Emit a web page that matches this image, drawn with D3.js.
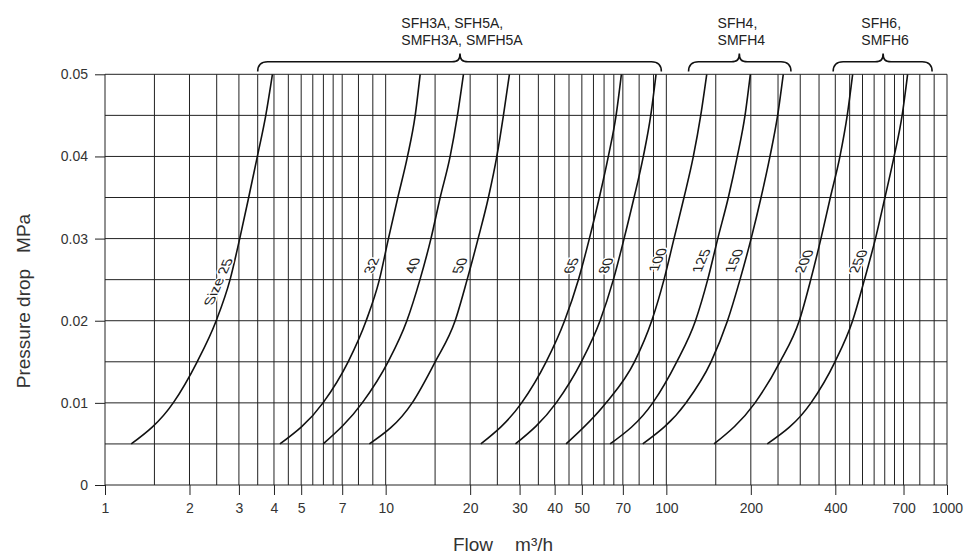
<!doctype html>
<html lang="en">

<head>
  <title>Pressure drop vs flow</title>
  <meta charset="utf-8" />
  <script src="https://d3js.org/d3.v7.min.js"></script>
  <style>
    body { margin: 0; background: #fff; }
    svg { display: block; font-family: "Liberation Sans", Arial, sans-serif; }
  </style>
</head>

<body>
  <svg id="chart" width="964" height="554"></svg>

  <script>
    // tick labels and grid
    const flowTicks = [1, 2, 3, 4, 5, 7, 10, 20, 30, 40, 50, 70, 100, 200, 400, 700, 1000];
    const gridSteps = [1, 1.5, 2, 2.5, 3, 3.5, 4, 4.5, 5, 5.5, 6, 6.5, 7, 8, 9];
    const decades = [1, 10, 100];
    const pressureTicks = [0, 0.01, 0.02, 0.03, 0.04, 0.05];
    const pressureGrid = [0, 0.005, 0.01, 0.015, 0.02, 0.025, 0.03, 0.035, 0.04, 0.045, 0.05];

    // curves: flow (m3/h) read at each pressure level (MPa)
    const pressureLevels = [0.005, 0.01, 0.015, 0.02, 0.025, 0.03, 0.035, 0.04, 0.045, 0.05];
    const sizes = ["Size 25", "32", "40", "50", "65", "80", "100", "125", "150", "200", "250"];
    const flow25 = [1.24, 1.75, 2.13, 2.49, 2.79, 3.02, 3.25, 3.49, 3.74, 3.95];
    const flow32 = [4.20, 5.98, 7.35, 8.52, 9.50, 10.23, 11.05, 11.96, 12.74, 13.27];
    const flow40 = [5.99, 8.25, 10.2, 11.9, 13.25, 14.5, 15.64, 16.97, 18.02, 18.93];
    const flow50 = [8.75, 12.43, 15.01, 17.68, 19.51, 21.35, 23.23, 24.89, 26.28, 27.60];
    const flow65 = [21.83, 30.5, 37.3, 43.4, 48.61, 53.19, 57.72, 62.14, 66.22, 69.16];
    const flow80 = [29.0, 40.5, 49.8, 58.06, 64.76, 70.70, 76.74, 82.80, 87.99, 91.9];
    const flow100 = [43.94, 61.0, 77.0, 88.72, 98.1, 106.5, 115.6, 124.8, 132.6, 139.3];
    const flow125 = [63.03, 89.45, 108.9, 127.0, 140.4, 152.5, 166.3, 179.0, 190.7, 199.2];
    const flow150 = [82.41, 117.5, 144.3, 165.2, 183.0, 200.5, 217.5, 234.0, 249.2, 261.0];
    const flow200 = [147.9, 207.0, 254.1, 297.6, 327.0, 355.5, 384.0, 415.5, 441.1, 461.2];
    const flow250 = [228.9, 327.6, 398.9, 461.0, 508.0, 556.0, 601.0, 648.0, 692.0, 723.9];
    const flows = [flow25, flow32, flow40, flow50, flow65, flow80, flow100, flow125, flow150, flow200, flow250];
    // pressure at which each size label sits
    const labelPressure = [0.0247, 0.0267, 0.0267, 0.0267, 0.0267, 0.0267, 0.0274, 0.0273, 0.0273, 0.0272, 0.0272];

    // model groups shown with braces above the chart
    const groupLines = [["SFH3A, SFH5A,", "SMFH3A, SMFH5A"], ["SFH4,", "SMFH4"], ["SFH6,", "SMFH6"]];
    const groupFrom = [3.5, 120, 393];
    const groupTo = [96, 278, 885];
    const groupMid = [18.4, 182, 592];

    const svg = d3.select("#chart");

    const x = d3.scaleLog().domain([1, 1000]).range([105, 947]);
    const y = d3.scaleLinear().domain([0, 0.05]).range([485, 74.3]);

    /* grid */
    const vLines = decades.flatMap(d => gridSteps.map(m => m * d)).concat([1000]);
    const grid = svg.append("g").attr("stroke", "#222").attr("stroke-width", 1);

    grid.selectAll("line.v")
      .data(vLines)
      .join("line")
      .attr("class", "v")
      .attr("x1", d => x(d)).attr("x2", d => x(d))
      .attr("y1", y(0)).attr("y2", y(0.05));

    grid.selectAll("line.h")
      .data(pressureGrid)
      .join("line")
      .attr("class", "h")
      .attr("x1", x(1)).attr("x2", x(1000))
      .attr("y1", d => y(d)).attr("y2", d => y(d));

    /* axes */
    const xAxis = svg.append("g")
      .attr("transform", `translate(0,${y(0)})`)
      .call(d3.axisBottom(x)
        .tickValues(flowTicks)
        .tickFormat(d3.format("d"))
        .tickSizeInner(10)
        .tickSizeOuter(0)
        .tickPadding(8));

    const yAxis = svg.append("g")
      .attr("transform", `translate(${x(1)},0)`)
      .call(d3.axisLeft(y)
        .tickValues(pressureTicks)
        .tickFormat(d => d === 0 ? "0" : d3.format(".2f")(d))
        .tickSizeInner(10)
        .tickSizeOuter(0)
        .tickPadding(7));

    [xAxis, yAxis].forEach(a => {
      a.select(".domain").remove();
      a.attr("font-family", null).attr("font-size", 14);
      a.selectAll("line").attr("stroke", "#222");
      a.selectAll("text").attr("fill", "#333");
    });

    /* curves */
    const line = d3.line()
      .x(d => x(d[0]))
      .y(d => y(d[1]))
      .curve(d3.curveMonotoneX);

    const series = flows.map(f => f.map((v, i) => [v, pressureLevels[i]]));

    svg.append("g")
      .selectAll("path")
      .data(series)
      .join("path")
      .attr("d", line)
      .attr("fill", "none")
      .attr("stroke", "#111")
      .attr("stroke-width", 1.6);

    /* size labels, slanted along the curves */
    function flowAt(f, p) {
      const i = Math.max(1, d3.bisectLeft(pressureLevels, p));
      const t = (p - pressureLevels[i - 1]) / (pressureLevels[i] - pressureLevels[i - 1]);
      return Math.pow(10, Math.log10(f[i - 1]) + t * (Math.log10(f[i]) - Math.log10(f[i - 1])));
    }

    svg.append("g")
      .selectAll("text")
      .data(sizes)
      .join("text")
      .attr("transform", (d, i) => {
        const px = x(flowAt(flows[i], labelPressure[i])) - 11;
        const py = y(labelPressure[i]);
        return `translate(${px},${py}) rotate(-90) skewY(24)`;
      })
      .attr("text-anchor", "middle")
      .attr("dominant-baseline", "central")
      .attr("font-size", 14)
      .attr("fill", "#222")
      .attr("stroke", "#fff")
      .attr("stroke-width", 3)
      .attr("paint-order", "stroke")
      .text(d => d);

    /* braces with model names */
    function brace(a, b, m) {
      const yEnd = 71.5, yFlat = 61.7, yPeak = 53.5, r = 10;
      return `M${a},${yEnd} Q${a},${yFlat} ${a + r},${yFlat} L${m - 8},${yFlat}` +
        ` C${m - 2},${yFlat} ${m},${yFlat - 2} ${m},${yPeak}` +
        ` C${m},${yFlat - 2} ${m + 2},${yFlat} ${m + 8},${yFlat}` +
        ` L${b - r},${yFlat} Q${b},${yFlat} ${b},${yEnd}`;
    }

    const groups = svg.append("g")
      .selectAll("g")
      .data(groupLines)
      .join("g");

    groups.append("path")
      .attr("d", (d, i) => brace(x(groupFrom[i]), x(groupTo[i]), x(groupMid[i])))
      .attr("fill", "none")
      .attr("stroke", "#111")
      .attr("stroke-width", 1.6);

    groups.each(function (d, i) {
      const g = d3.select(this);
      const texts = g.selectAll("text.name")
        .data(d)
        .join("text")
        .attr("class", "name")
        .attr("y", (t, j) => 28 + j * 17)
        .attr("font-size", 14)
        .attr("fill", "#222")
        .text(t => t);
      const w = d3.max(texts.nodes(), n => n.getComputedTextLength());
      texts.attr("x", x(groupMid[i]) - w / 2 + 2);
    });

    /* axis titles */
    svg.append("text")
      .attr("transform", "translate(30,301) rotate(-90)")
      .attr("text-anchor", "middle")
      .attr("font-size", 19)
      .attr("fill", "#333")
      .text("Pressure drop")
      .append("tspan")
      .attr("dx", 16)
      .text("MPa");

    svg.append("text")
      .attr("x", 503)
      .attr("y", 551)
      .attr("text-anchor", "middle")
      .attr("font-size", 19)
      .attr("fill", "#333")
      .text("Flow")
      .append("tspan")
      .attr("dx", 22)
      .text("m³/h");
  </script>
</body>

</html>
